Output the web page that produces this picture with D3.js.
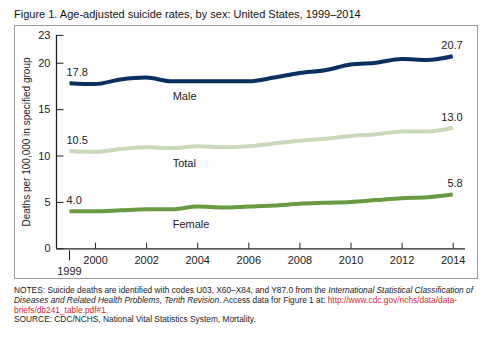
<!DOCTYPE html>
<html>
<head>
<meta charset="utf-8">
<script src="https://cdn.jsdelivr.net/npm/d3@7"></script>
<style>
  body { margin: 0; background: #fff; }
  svg { display: block; font-family: "Liberation Sans", Arial, sans-serif; }
</style>
</head>
<body>
<script>
// suicide rates per 100,000, 1999-2014
var years = d3.range(1999, 2015);
var male   = [17.8, 17.7, 18.2, 18.4, 18.0, 18.0, 18.0, 18.0, 18.4, 18.9, 19.2, 19.8, 20.0, 20.4, 20.3, 20.7];
var total  = [10.5, 10.4, 10.7, 10.9, 10.8, 11.0, 10.9, 11.0, 11.3, 11.6, 11.8, 12.1, 12.3, 12.6, 12.6, 13.0];
var female = [4.0, 4.0, 4.1, 4.2, 4.2, 4.5, 4.4, 4.5, 4.6, 4.8, 4.9, 5.0, 5.2, 5.4, 5.5, 5.8];
var yTicks = [0, 5, 10, 15, 20, 23];
var xTicks = [2000, 2002, 2004, 2006, 2008, 2010, 2012, 2014];

var series = [
  { name: "Male", values: male, color: "#0b2f5e" },
  { name: "Total", values: total, color: "#c9d9b7" },
  { name: "Female", values: female, color: "#6b9a42" }
];

var width = 489, height = 341;

var svg = d3.select("body").append("svg")
  .attr("width", width)
  .attr("height", height);

var x = d3.scaleLinear().domain([1999, 2014]).range([69.5, 452.7]);
var y = d3.scaleLinear().domain([0, 23]).range([248.3, 34.9]);

svg.append("text")
  .attr("x", 14).attr("y", 18)
  .attr("font-size", 11)
  .attr("fill", "#111")
  .text("Figure 1. Age-adjusted suicide rates, by sex: United States, 1999\u20132014");

// frame around the chart
svg.append("rect")
  .attr("x", 14.5).attr("y", 25.5)
  .attr("width", 463).attr("height", 253)
  .attr("fill", "none")
  .attr("stroke", "#9a9a9a")
  .attr("stroke-width", 1);

// y axis, ticks point inward
var yAxis = d3.axisRight(y).tickValues(yTicks).tickSize(7).tickFormat(d3.format("d"));
var gy = svg.append("g")
  .attr("transform", "translate(56.5,0)")
  .call(yAxis);
gy.select(".domain").attr("d", "M0," + y(23) + "V" + y(0));
gy.selectAll(".tick text")
  .attr("x", -6).attr("text-anchor", "end")
  .attr("font-size", 11).attr("fill", "#222");

// x axis, ticks point up
var xAxis = d3.axisTop(x).tickValues(xTicks).tickSize(6).tickFormat(d3.format("d"));
var gx = svg.append("g")
  .attr("transform", "translate(0," + (y(0) + 0.5) + ")")
  .call(xAxis);
gx.select(".domain").attr("d", "M56," + 0 + "H465");
gx.selectAll(".tick text")
  .attr("y", 15).attr("dy", 0)
  .attr("font-size", 11).attr("fill", "#222");
svg.selectAll(".domain").attr("stroke", "#222").attr("stroke-width", 1.3);
svg.selectAll(".tick line").attr("stroke", "#222");

// 1999 sits below the axis with its own downward tick
svg.append("line")
  .attr("x1", x(1999)).attr("x2", x(1999))
  .attr("y1", y(0) + 2).attr("y2", y(0) + 12)
  .attr("stroke", "#222");
svg.append("text")
  .attr("x", x(1999)).attr("y", y(0) + 27)
  .attr("text-anchor", "middle")
  .attr("font-size", 11).attr("fill", "#222")
  .text("1999");

svg.append("text")
  .attr("transform", "translate(30,142) rotate(-90)")
  .attr("text-anchor", "middle")
  .attr("font-size", 10)
  .attr("fill", "#222")
  .text("Deaths per 100,000 in specified group");

var line = d3.line()
  .x(function(d, i) { return x(years[i]); })
  .y(function(d) { return y(d); })
  .curve(d3.curveMonotoneX);

series.forEach(function(s) {
  svg.append("path")
    .datum(s.values)
    .attr("d", line)
    .attr("fill", "none")
    .attr("stroke", s.color)
    .attr("stroke-width", 4)
    .attr("stroke-linejoin", "round");

  var first = s.values[0], last = s.values[s.values.length - 1];
  svg.append("text")
    .attr("x", x(1999) - 3).attr("y", y(first) - 7)
    .attr("font-size", 11).attr("fill", "#222")
    .text(d3.format(".1f")(first));
  svg.append("text")
    .attr("x", x(2014) + 10).attr("y", y(last) - 7)
    .attr("text-anchor", "end")
    .attr("font-size", 11).attr("fill", "#222")
    .text(d3.format(".1f")(last));
  svg.append("text")
    .attr("x", x(2003) + 1).attr("y", y(s.values[4]) + 19)
    .attr("font-size", 11).attr("fill", "#222")
    .text(s.name);
});

// notes under the frame
var notes = svg.append("g").attr("font-size", 8.35).attr("fill", "#222");
var n1 = notes.append("text").attr("x", 14).attr("y", 293);
n1.append("tspan").text("NOTES: Suicide deaths are identified with codes U03, X60\u2013X84, and Y87.0 from the ");
n1.append("tspan").attr("font-style", "italic").text("International Statistical Classification of");
var n2 = notes.append("text").attr("x", 14).attr("y", 303);
n2.append("tspan").attr("font-style", "italic").text("Diseases and Related Health Problems, Tenth Revision");
n2.append("tspan").text(". Access data for Figure 1 at: ");
n2.append("tspan").attr("fill", "#d8262e").text("http://www.cdc.gov/nchs/data/data-");
notes.append("text").attr("x", 14).attr("y", 312.5)
  .attr("fill", "#d8262e").text("briefs/db241_table.pdf#1.");
notes.append("text").attr("x", 14).attr("y", 322)
  .text("SOURCE: CDC/NCHS, National Vital Statistics System, Mortality.");
</script>
</body>
</html>
